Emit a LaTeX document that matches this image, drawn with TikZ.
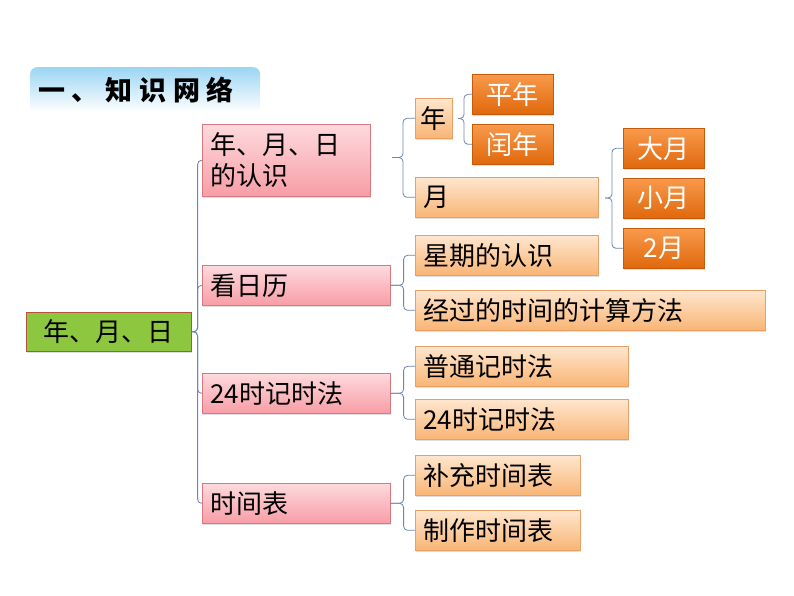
\documentclass[tikz,border=0pt]{standalone}
\usepackage{fontspec}
\setmainfont{Noto Sans CJK SC}
\newfontfamily\titlefont[LetterSpace=25]{Noto Sans CJK SC}
\usepackage{tikz}
\usetikzlibrary{calc,shadows}
\definecolor{clRoot}{HTML}{8DC63F}
\definecolor{clRootLine}{HTML}{B5533B}
\definecolor{clPinkTop}{HTML}{FDDADD}
\definecolor{clPinkBot}{HTML}{F89DA6}
\definecolor{clPinkLine}{HTML}{D97880}
\definecolor{clPeachTop}{HTML}{FEE6CE}
\definecolor{clPeachBot}{HTML}{F9B575}
\definecolor{clPeachLine}{HTML}{E6A066}
\definecolor{clOrangeTop}{HTML}{F89A4C}
\definecolor{clOrangeBot}{HTML}{E0680C}
\definecolor{clOrangeLine}{HTML}{C45A0A}
\definecolor{clLink}{HTML}{6A87B5}
\definecolor{clTitle}{HTML}{9BD6F3}
\tikzset{
  box/.style={rectangle, draw, line width=0.6pt, anchor=north west, align=left,
              inner xsep=8pt, inner ysep=0pt, minimum height=40pt,
              font=\fontsize{26}{31}\selectfont, text=black,
              drop shadow={shadow xshift=0.6pt, shadow yshift=-2pt, opacity=0.25}},
  rootbox/.style={box, draw=clRootLine, fill=clRoot, align=center,
                  inner xsep=0pt, minimum width=165pt, minimum height=39pt},
  pinkbox/.style={box, draw=clPinkLine, top color=clPinkTop, bottom color=clPinkBot},
  peachbox/.style={box, draw=clPeachLine, top color=clPeachTop, bottom color=clPeachBot},
  orangebox/.style={box, draw=clOrangeLine, top color=clOrangeTop, bottom color=clOrangeBot,
                    text=white, align=center, inner xsep=0pt, text width=81pt},
  link/.style={draw=clLink, line width=0.8pt, rounded corners=4pt},
}

\begin{document}
\begin{tikzpicture}[x=1pt, y=-1pt]
  \fill[white] (0,0) rectangle (794,596);
  \useasboundingbox (0,0) rectangle (794,596);
  % title
  \node[anchor=north west, rectangle, rounded corners=7pt, top color=clTitle, bottom color=white,
        minimum width=230pt, minimum height=45pt, text width=214pt, inner xsep=8pt,
        font=\titlefont\bfseries\fontsize{27}{30}\selectfont] (title) at (30,67) {一、知识网络};
  % root
  \node[rootbox] (root) at (26,312) {年、月、日};
  % first level
  \node[pinkbox, text width=152pt, minimum height=72pt] (nyr) at (202,124) {年、月、日\\的认识};
  \node[pinkbox, text width=172pt] (kan) at (202,265) {看日历};
  \node[pinkbox, text width=172pt] (jsf) at (202,373) {24时记时法};
  \node[pinkbox, text width=172pt] (sjb) at (202,483) {时间表};
  % second level
  \node[peachbox, inner xsep=0pt, text width=37pt, align=center] (nian) at (415,98) {年};
  \node[peachbox, text width=167pt] (yue) at (415,177) {月};
  \node[peachbox, text width=167pt] (xq) at (415,235) {星期的认识};
  \node[peachbox, text width=334pt] (jg) at (415,290) {经过的时间的计算方法};
  \node[peachbox, text width=197pt] (pt) at (415,346) {普通记时法};
  \node[peachbox, text width=197pt] (es) at (415,399) {24时记时法};
  \node[peachbox, text width=149pt] (bc) at (415,455) {补充时间表};
  \node[peachbox, text width=149pt] (zz) at (415,510) {制作时间表};
  % third level
  \node[orangebox] (ping) at (472,74) {平年};
  \node[orangebox] (run) at (472,124) {闰年};
  \node[orangebox] (da) at (623,128) {大月};
  \node[orangebox] (xiao) at (623,178) {小月};
  \node[orangebox] (er) at (623,228) {2月};
  % brackets
  \coordinate (nyrtip) at (392,157.5);
  \coordinate (niantip) at (458,118.5);
  \coordinate (yuetip) at (605,198);
  \foreach \c in {nyr,kan,jsf,sjb}
    \draw[link] (root.east) -- ++(6,0) |- (\c.west);
  \foreach \c in {nian,yue}
    \draw[link] (nyrtip) -- ++(11,0) |- (\c.west);
  \foreach \c in {ping,run}
    \draw[link] (niantip) -- ++(6,0) |- (\c.west);
  \foreach \c in {da,er}
    \draw[link] (yuetip) -- ++(7,0) |- (\c.west);
  \foreach \c in {xq,jg}
    \draw[link] (kan.east) -- ++(13,0) |- (\c.west);
  \foreach \c in {pt,es}
    \draw[link] (jsf.east) -- ++(13,0) |- (\c.west);
  \foreach \c in {bc,zz}
    \draw[link] (sjb.east) -- ++(13,0) |- (\c.west);
\end{tikzpicture}
\end{document}
